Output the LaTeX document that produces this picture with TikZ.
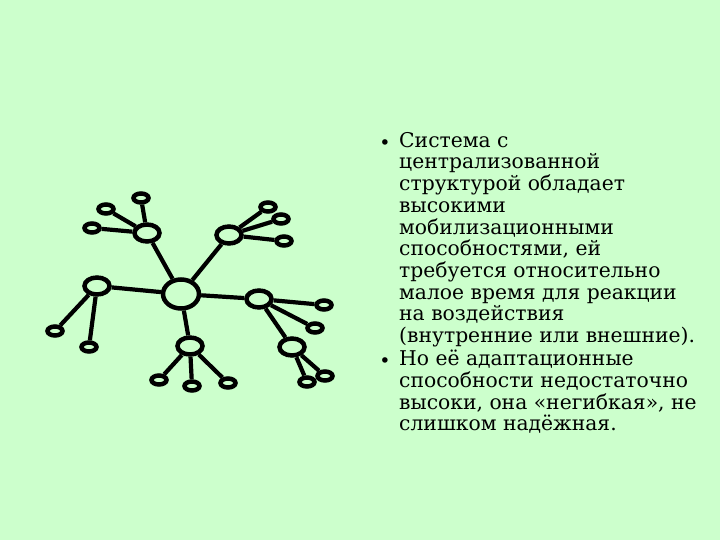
\documentclass[tikz,border=0pt]{standalone}
\usepackage{fontspec}
\setmainfont{DejaVu Serif}
\usetikzlibrary{shapes.geometric}
\definecolor{bg}{HTML}{CCFFCC}
\tikzset{
  leaf/.style={ellipse, draw, line width=4.5pt, minimum width=15pt, minimum height=9pt, inner sep=0pt},
  hub/.style={ellipse, draw, line width=4.5pt, minimum width=25pt, minimum height=17pt, inner sep=0pt},
  core/.style={ellipse, draw, line width=4.5pt, minimum width=36pt, minimum height=29pt, inner sep=0pt},
  link/.style={line width=4.2pt},
  txt/.style={anchor=north west, align=left, inner sep=0pt, font=\fontsize{20.3}{21.7}\selectfont},
  bul/.style={inner sep=0pt, font=\fontsize{19}{19}\selectfont}
}
\begin{document}
\begin{tikzpicture}[x=1pt,y=-1pt]
\fill[bg] (0,0) rectangle (720,540);
\useasboundingbox (0,0) rectangle (720,540);
% core and hubs
\node[core] (c) at (181,294) {};
\node[hub] (h1) at (147,233) {};
\node[hub] (h2) at (229,235) {};
\node[hub] (h3) at (97,286) {};
\node[hub] (h4) at (190,346) {};
\node[hub] (h5) at (259,299) {};
\node[hub] (h6) at (292,347) {};
% leaves
\node[leaf] (l11) at (141,198) {};
\node[leaf] (l12) at (106,209) {};
\node[leaf] (l13) at (92,228) {};
\node[leaf] (l21) at (268,207) {};
\node[leaf] (l22) at (281,219) {};
\node[leaf] (l23) at (284,241) {};
\node[leaf] (l31) at (55,331) {};
\node[leaf] (l32) at (89,347) {};
\node[leaf] (l41) at (159,380) {};
\node[leaf] (l42) at (192,386) {};
\node[leaf] (l43) at (228,383) {};
\node[leaf] (l51) at (324,305) {};
\node[leaf] (l52) at (315,328) {};
\node[leaf] (l61) at (307,382) {};
\node[leaf] (l62) at (325,376) {};
% links
\foreach \h in {h1,h2,h3,h4,h5} \draw[link] (c) -- (\h);
\foreach \l in {l11,l12,l13} \draw[link] (h1) -- (\l);
\foreach \l in {l21,l22,l23} \draw[link] (h2) -- (\l);
\foreach \l in {l31,l32} \draw[link] (h3) -- (\l);
\foreach \l in {l41,l42,l43} \draw[link] (h4) -- (\l);
\foreach \l in {l51,l52} \draw[link] (h5) -- (\l);
\draw[link] (h5) -- (h6);
\foreach \l in {l61,l62} \draw[link] (h6) -- (\l);
% text
\node[bul] (b1) at (385,145) {•};
\node[txt] (t1) at (399,132) {Система с\\централизованной\\структурой  обладает\\высокими\\мобилизационными\\способностями, ей\\требуется относительно\\малое время для реакции\\на воздействия\\(внутренние или внешние).};
\node[bul] (b2) at (385,363) {•};
\node[txt] (t2) at (399,350) {Но её адаптационные\\способности недостаточно\\высоки, она «негибкая», не\\слишком надёжная.};
\end{tikzpicture}
\end{document}
